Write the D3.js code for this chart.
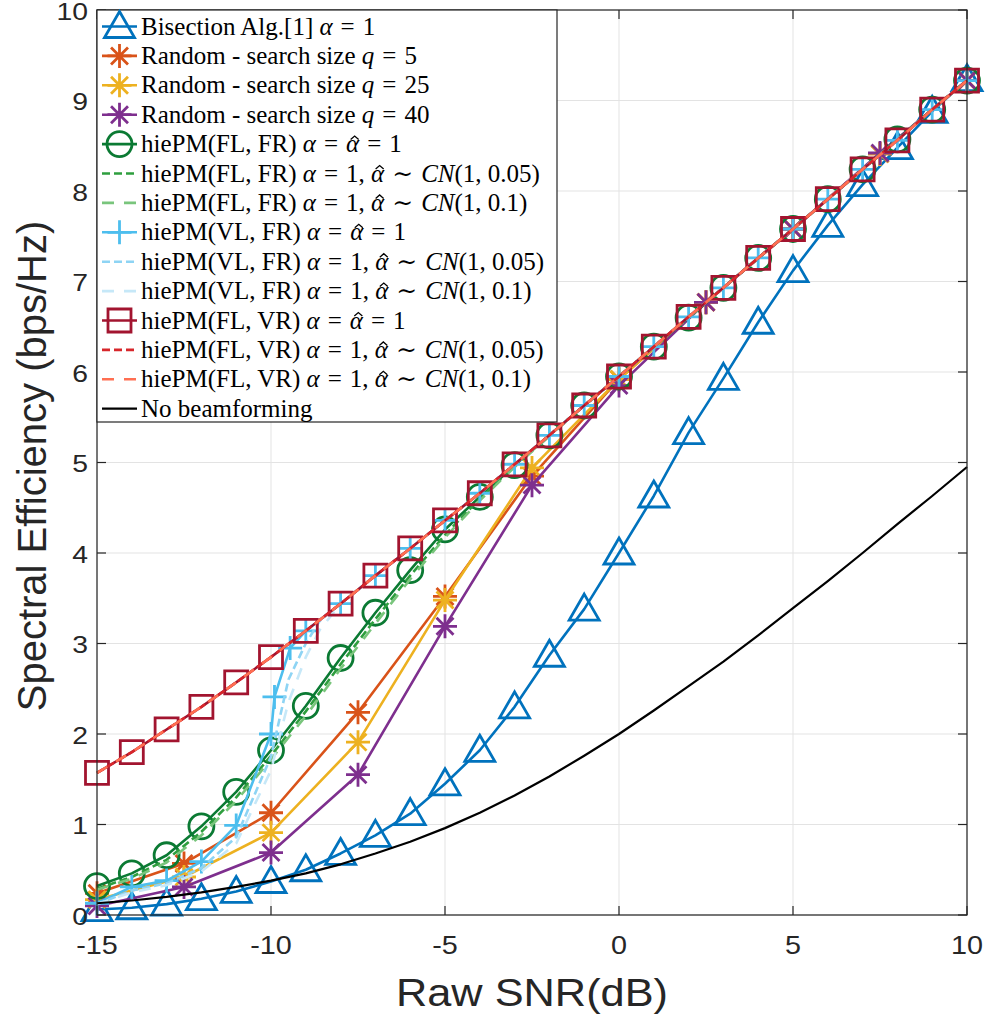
<!DOCTYPE html>
<html>
<head>
<meta charset="utf-8">
<script src="https://cdn.jsdelivr.net/npm/d3@7"></script>
<style>
  body { margin: 0; background: #fff; }
  .sans { font-family: "Liberation Sans", Arial, sans-serif; fill: #262626; }
  .legend-text { font-family: "Liberation Serif", "DejaVu Serif", serif; fill: #000; }
</style>
</head>
<body>
<div id="container"></div>
<script>
// ---- data ----
const snr = [-15, -14, -13, -12, -11, -10, -9, -8, -7, -6, -5, -4, -3, -2, -1, 0, 1, 2, 3, 4, 5, 6, 7, 8, 9, 10];
const snrRandom = [-15, -12.5, -10, -7.5, -5, -2.5, 0, 2.5, 5, 7.5, 10];
const snrVL = [-15, -14, -13, -12, -11, -10, -9.9, -9.45, -9, -8, -7, -6, -5, -4, -3, -2, -1, 0, 1, 2, 3, 4, 5, 6, 7, 8, 9, 10];
const snrVLnoisy = [-15, -14, -13, -12, -11, -10, -9.5, -9, -8.6, -8, -7, -6, -5, -4, -3, -2, -1, 0, 1, 2, 3, 4, 5, 6, 7, 8, 9, 10];

const bisection = [0.06, 0.08, 0.12, 0.18, 0.26, 0.37, 0.5, 0.68, 0.88, 1.12, 1.45, 1.82, 2.3, 2.87, 3.38, 4.0, 4.63, 5.33, 5.93, 6.55, 7.12, 7.62, 8.07, 8.48, 8.88, 9.23];
const random5 = [0.24, 0.57, 1.13, 2.24, 3.52, 4.85, 5.92, 6.77, 7.58, 8.41, 9.22];
const random25 = [0.17, 0.42, 0.91, 1.91, 3.48, 4.94, 5.92, 6.77, 7.58, 8.41, 9.22];
const random40 = [0.1, 0.31, 0.69, 1.55, 3.19, 4.75, 5.85, 6.77, 7.58, 8.42, 9.22];
const flfr = [0.32, 0.46, 0.66, 0.98, 1.36, 1.82, 2.31, 2.84, 3.34, 3.81, 4.26, 4.62, 4.97, 5.3, 5.63, 5.95, 6.28, 6.6, 6.93, 7.26, 7.58, 7.91, 8.24, 8.57, 8.9, 9.22];
const flfr05 = [0.29, 0.42, 0.61, 0.92, 1.3, 1.76, 2.25, 2.77, 3.27, 3.75, 4.2, 4.6, 4.96, 5.3, 5.63, 5.95, 6.28, 6.6, 6.93, 7.26, 7.58, 7.91, 8.24, 8.57, 8.9, 9.22];
const flfr1 = [0.28, 0.4, 0.58, 0.88, 1.26, 1.72, 2.2, 2.72, 3.22, 3.71, 4.17, 4.58, 4.95, 5.29, 5.63, 5.95, 6.28, 6.6, 6.93, 7.26, 7.58, 7.91, 8.24, 8.57, 8.9, 9.22];
const vlfr = [0.13, 0.31, 0.38, 0.59, 0.99, 2.0, 2.41, 2.95, 3.14, 3.44, 3.75, 4.05, 4.36, 4.66, 4.98, 5.3, 5.63, 5.95, 6.28, 6.61, 6.93, 7.26, 7.58, 7.91, 8.24, 8.56, 8.9, 9.22];
const vlfr05 = [0.12, 0.27, 0.35, 0.52, 0.86, 1.75, 2.6, 3.0, 3.25, 3.44, 3.75, 4.05, 4.36, 4.66, 4.98, 5.3, 5.63, 5.95, 6.28, 6.61, 6.93, 7.26, 7.58, 7.91, 8.24, 8.56, 8.9, 9.22];
const vlfr1 = [0.12, 0.25, 0.33, 0.48, 0.79, 1.6, 2.35, 2.85, 3.15, 3.44, 3.75, 4.05, 4.36, 4.66, 4.98, 5.3, 5.63, 5.95, 6.28, 6.61, 6.93, 7.26, 7.58, 7.91, 8.24, 8.56, 8.9, 9.22];
const flvr = [1.57, 1.8, 2.05, 2.3, 2.57, 2.85, 3.14, 3.44, 3.75, 4.05, 4.36, 4.66, 4.98, 5.3, 5.63, 5.95, 6.28, 6.61, 6.93, 7.26, 7.58, 7.91, 8.24, 8.56, 8.9, 9.22];
const flvr05 = [1.57, 1.8, 2.05, 2.3, 2.57, 2.85, 3.14, 3.44, 3.75, 4.05, 4.36, 4.66, 4.98, 5.3, 5.63, 5.95, 6.28, 6.61, 6.93, 7.26, 7.58, 7.91, 8.24, 8.56, 8.9, 9.22];
const flvr1 = [1.57, 1.8, 2.05, 2.3, 2.57, 2.85, 3.14, 3.44, 3.75, 4.05, 4.36, 4.66, 4.98, 5.3, 5.63, 5.95, 6.28, 6.61, 6.93, 7.26, 7.58, 7.91, 8.24, 8.56, 8.9, 9.22];
const noBeam = [0.13, 0.16, 0.2, 0.25, 0.31, 0.38, 0.46, 0.56, 0.68, 0.81, 0.96, 1.13, 1.32, 1.53, 1.76, 2.0, 2.26, 2.53, 2.8, 3.09, 3.39, 3.69, 4.0, 4.32, 4.63, 4.95];

const xTicks = [-15, -10, -5, 0, 5, 10];
const yTicks = [0, 1, 2, 3, 4, 5, 6, 7, 8, 9, 10];

// legend labels as pieces: t = text, i = italic, hat = italic with a hat, rel = relation
const sigma05 = [["t", "(1, 0.05)"]];
const sigma1 = [["t", "(1, 0.1)"]];
const exact = [["i", "α"], ["rel", "="], ["hat", "α"], ["rel", "="], ["t", "1"]];
const noisy = [["i", "α"], ["rel", "="], ["t", "1, "], ["hat", "α"], ["rel", "∼"], ["i", "CN"]];

const series = [
  { x: snr, y: bisection, color: "#0072BD", marker: "triangle", dash: null,
    label: [["t", "Bisection Alg.[1] "], ["i", "α"], ["rel", "="], ["t", "1"]] },
  { x: snrRandom, y: random5, color: "#D95319", marker: "star", dash: null,
    label: [["t", "Random - search size "], ["i", "q"], ["rel", "="], ["t", "5"]] },
  { x: snrRandom, y: random25, color: "#EDB120", marker: "star", dash: null,
    label: [["t", "Random - search size "], ["i", "q"], ["rel", "="], ["t", "25"]] },
  { x: snrRandom, y: random40, color: "#7E2F8E", marker: "star", dash: null,
    label: [["t", "Random - search size "], ["i", "q"], ["rel", "="], ["t", "40"]] },
  { x: snr, y: flfr, color: "#0B7A33", marker: "circle", dash: null,
    label: [["t", "hiePM(FL, FR) "], ...exact] },
  { x: snr, y: flfr05, color: "#2E9E3E", marker: null, dash: "8,4",
    label: [["t", "hiePM(FL, FR) "], ...noisy, ...sigma05] },
  { x: snr, y: flfr1, color: "#79C57C", marker: null, dash: "12,10",
    label: [["t", "hiePM(FL, FR) "], ...noisy, ...sigma1] },
  { x: snrVL, y: vlfr, color: "#4DBEEE", marker: "plus", dash: null,
    label: [["t", "hiePM(VL, FR) "], ...exact] },
  { x: snrVLnoisy, y: vlfr05, color: "#8ED4F4", marker: null, dash: "8,4",
    label: [["t", "hiePM(VL, FR) "], ...noisy, ...sigma05] },
  { x: snrVLnoisy, y: vlfr1, color: "#C6E8F8", marker: null, dash: "12,10",
    label: [["t", "hiePM(VL, FR) "], ...noisy, ...sigma1] },
  { x: snr, y: flvr, color: "#A2142F", marker: "square", dash: null,
    label: [["t", "hiePM(FL, VR) "], ...exact] },
  { x: snr, y: flvr05, color: "#D7262B", marker: null, dash: "8,4",
    label: [["t", "hiePM(FL, VR) "], ...noisy, ...sigma05] },
  { x: snr, y: flvr1, color: "#FF6F52", marker: null, dash: "12,10",
    label: [["t", "hiePM(FL, VR) "], ...noisy, ...sigma1] },
  { x: snr, y: noBeam, color: "#000000", marker: null, dash: null, width: 2.2,
    label: [["t", "No beamforming"]] }
];

// ---- layout ----
const W = 985, H = 1015;
const margin = { left: 97, top: 10, right: 18, bottom: 100 };
const width = W - margin.left - margin.right;
const height = H - margin.top - margin.bottom;

const x = d3.scaleLinear().domain([-15, 10]).range([0, width]);
const y = d3.scaleLinear().domain([0, 10]).range([height, 0]);

const svg = d3.select("#container").append("svg")
  .attr("width", W)
  .attr("height", H);

const plot = svg.append("g")
  .attr("transform", `translate(${margin.left},${margin.top})`);

// grid
plot.append("g").selectAll("line").data(xTicks).join("line")
  .attr("x1", d => x(d)).attr("x2", d => x(d))
  .attr("y1", 0).attr("y2", height)
  .attr("stroke", "#e3e3e3").attr("stroke-width", 1);
plot.append("g").selectAll("line").data(yTicks).join("line")
  .attr("y1", d => y(d)).attr("y2", d => y(d))
  .attr("x1", 0).attr("x2", width)
  .attr("stroke", "#e3e3e3").attr("stroke-width", 1);

// marker shapes (MATLAB-like)
function markerPath(type) {
  switch (type) {
    case "triangle": return "M0,-15 L15,11 L-15,11 Z";
    case "square": return "M-11.5,-11.5 H11.5 V11.5 H-11.5 Z";
    case "circle": return d3.arc()({ innerRadius: 0, outerRadius: 12.5, startAngle: 0, endAngle: 2 * Math.PI });
    case "plus": return "M-12,0 H12 M0,-12 V12";
    case "star": {
      const r = 12, s = r * Math.SQRT1_2;
      return `M-${r},0 H${r} M0,-${r} V${r} M-${s},-${s} L${s},${s} M-${s},${s} L${s},-${s}`;
    }
  }
  return null;
}

const line = d3.line().x(d => x(d[0])).y(d => y(d[1]));
const dataRegion = plot.append("g");

series.forEach(s => {
  const pts = s.x.map((v, i) => [v, s.y[i]]);
  const g = dataRegion.append("g");
  g.append("path")
    .attr("d", line(pts))
    .attr("fill", "none")
    .attr("stroke", s.color)
    .attr("stroke-width", s.width || 2.6)
    .attr("stroke-dasharray", s.dash)
    .attr("stroke-linejoin", "round");
  if (s.marker) {
    g.selectAll("path.mk").data(pts).join("path")
      .attr("class", "mk")
      .attr("transform", d => `translate(${x(d[0])},${y(d[1])})`)
      .attr("d", markerPath(s.marker))
      .attr("fill", "none")
      .attr("stroke", s.color)
      .attr("stroke-width", 2.8);
  }
});

// axes box, ticks pointing inward on all four sides
const axisColor = "#262626";
plot.append("rect")
  .attr("width", width).attr("height", height)
  .attr("fill", "none").attr("stroke", axisColor).attr("stroke-width", 1.2);

const tickLen = 9;
xTicks.forEach(t => {
  plot.append("line").attr("x1", x(t)).attr("x2", x(t)).attr("y1", height).attr("y2", height - tickLen)
    .attr("stroke", axisColor).attr("stroke-width", 1.2);
  plot.append("line").attr("x1", x(t)).attr("x2", x(t)).attr("y1", 0).attr("y2", tickLen)
    .attr("stroke", axisColor).attr("stroke-width", 1.2);
});
yTicks.forEach(t => {
  plot.append("line").attr("y1", y(t)).attr("y2", y(t)).attr("x1", 0).attr("x2", tickLen)
    .attr("stroke", axisColor).attr("stroke-width", 1.2);
  plot.append("line").attr("y1", y(t)).attr("y2", y(t)).attr("x1", width).attr("x2", width - tickLen)
    .attr("stroke", axisColor).attr("stroke-width", 1.2);
});

// MATLAB's Helvetica comes out wider than Liberation Sans, stretch a bit
function stretch(sel, k) {
  sel.each(function () {
    const len = this.getComputedTextLength();
    d3.select(this).attr("textLength", len * k).attr("lengthAdjust", "spacingAndGlyphs");
  });
}

const xLabels = plot.append("g").selectAll("text").data(xTicks).join("text")
  .attr("class", "sans")
  .attr("x", d => x(d))
  .attr("y", height + 39)
  .attr("text-anchor", "middle")
  .style("font-size", "25px")
  .text(d => d);
stretch(xLabels, 1.15);

const yLabels = plot.append("g").selectAll("text").data(yTicks).join("text")
  .attr("class", "sans")
  .attr("x", -9)
  .attr("y", d => y(d) + 9.5)
  .attr("text-anchor", "end")
  .style("font-size", "24px")
  .text(d => d);
stretch(yLabels, 1.18);

const xTitle = svg.append("text")
  .attr("class", "sans")
  .attr("x", margin.left + width / 2)
  .attr("y", 1006)
  .attr("text-anchor", "middle")
  .style("font-size", "38px")
  .text("Raw SNR(dB)");
stretch(xTitle, 1.14);

svg.append("text")
  .attr("class", "sans")
  .attr("transform", `translate(46,466) rotate(-90)`)
  .attr("text-anchor", "middle")
  .style("font-size", "40px")
  .text("Spectral Efficiency (bps/Hz)");

// legend
const legend = plot.append("g");
const rowH = 29.4, legTop = 16.5, textY = 8;
legend.append("rect")
  .attr("x", 0).attr("y", 0)
  .attr("width", 460).attr("height", 412)
  .attr("fill", "#fff").attr("stroke", axisColor).attr("stroke-width", 1.2);

const relPad = 8;
series.forEach((s, i) => {
  const cy = legTop + i * rowH;
  const row = legend.append("g").attr("transform", `translate(0,${cy})`);
  row.append("line")
    .attr("x1", 5).attr("x2", 40).attr("y1", 0).attr("y2", 0)
    .attr("stroke", s.color).attr("stroke-width", s.width || 2.6)
    .attr("stroke-dasharray", s.dash);
  if (s.marker) {
    row.append("path")
      .attr("transform", "translate(22.5,0)")
      .attr("d", markerPath(s.marker))
      .attr("fill", "none").attr("stroke", s.color).attr("stroke-width", 2.8);
  }
  const t = row.append("text")
    .attr("class", "legend-text")
    .attr("x", 44).attr("y", textY)
    .style("font-size", "25px");
  let pending = 0, idx = 0;
  const hats = [];
  s.label.forEach(([kind, str]) => {
    if (kind === "rel") {
      t.append("tspan").attr("dx", relPad + pending).text(str);
      pending = relPad;
    } else {
      if (kind === "hat") hats.push(idx);
      t.append("tspan").attr("dx", pending)
        .style("font-style", kind === "t" ? "normal" : "italic")
        .text(str);
      pending = 0;
    }
    idx += str.length;
  });
  // the hat over alpha is drawn as a small stroke
  hats.forEach(ci => {
    const box = t.node().getExtentOfChar(ci);
    const cx = box.x + box.width / 2 + 2;
    const top = textY - 16;
    row.append("path")
      .attr("d", `M${cx - 4},${top + 3.5} L${cx},${top} L${cx + 4},${top + 3.5}`)
      .attr("fill", "none").attr("stroke", "#000").attr("stroke-width", 1.3);
  });
});
</script>
</body>
</html>
